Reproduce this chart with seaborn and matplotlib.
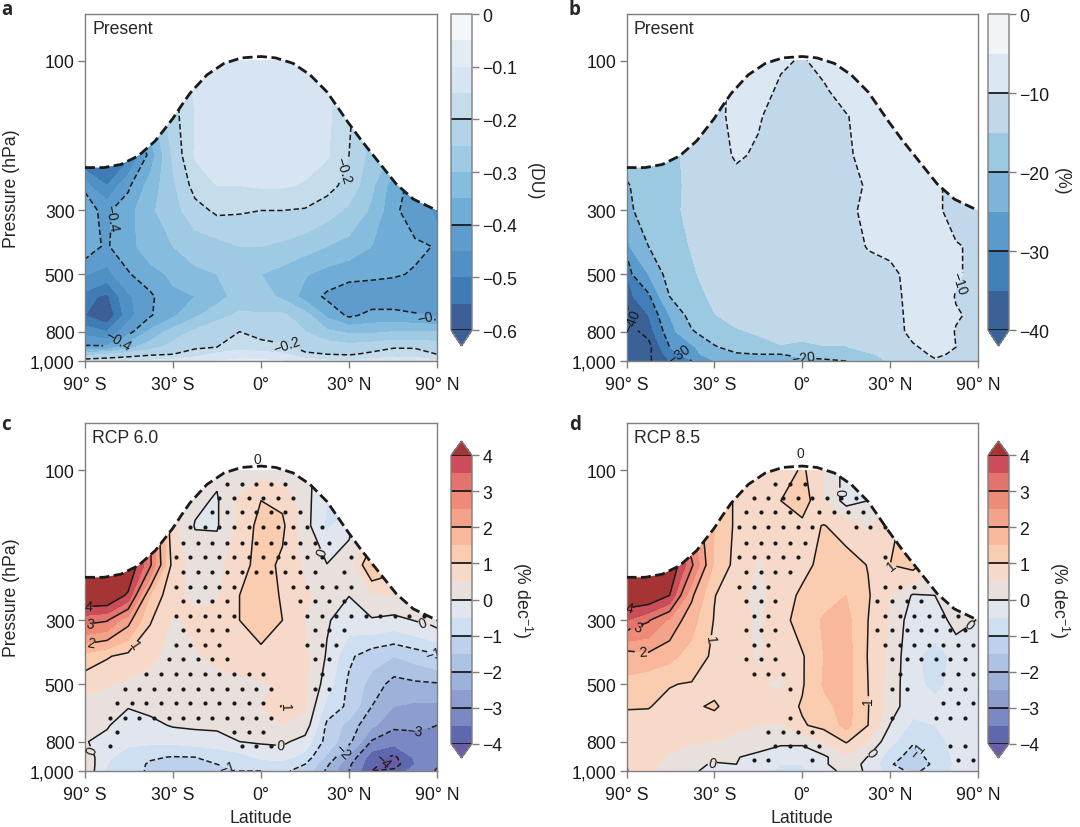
"""Zonal-mean ozone change panels: present-day bias and RCP trends."""
import matplotlib
matplotlib.use("Agg")
import matplotlib.pyplot as plt
from matplotlib.patches import Polygon
import numpy as np
import seaborn as sns

LAT = [-90, -61, -49, -39, -30, -22, -14.5, -7, 0, 7, 14.5, 22, 30, 39, 49, 61, 90]
PRES = [100, 125, 150, 200, 250, 300, 400, 500, 600, 700, 800, 900, 950, 1000]

TROP_LAT = [-90, -63.2, -52.7, -44.2, -36.9, -30.1, -26.9, -23.8, -17.9, -12.1, -6.4, 0,
            4.8, 10.5, 16.2, 22.1, 29.6, 34.9, 42.1, 50.2, 59.9, 90]
TROP_P = [219, 219, 214, 201, 180, 153, 139, 127, 111, 102, 98, 97,
          98, 102, 111, 126, 157, 180, 211, 247, 276, 300]

X_TICKS = [-90, -30, 0, 30, 90]
X_LABELS = ["90° S", "30° S", "0°", "30° N", "90° N"]
Y_TICKS = [100, 300, 500, 800, 1000]
Y_LABELS = ["100", "300", "500", "800", "1,000"]

# column ozone bias (DU), one row per pressure level, 90S to 90N
BIAS_DU = -np.array([
    [.50, .50, .45, .35, .28, .22, .14, .12, .12, .12, .13, .14, .20, .28, .30, .35, .40],
    [.50, .50, .45, .35, .22, .14, .13, .125, .12, .125, .13, .14, .20, .28, .30, .35, .40],
    [.50, .50, .45, .32, .22, .15, .13, .12, .12, .12, .13, .14, .19, .28, .30, .35, .40],
    [.58, .58, .52, .38, .24, .145, .13, .12, .12, .12, .13, .145, .20, .27, .31, .36, .42],
    [.41, .50, .41, .33, .26, .18, .15, .15, .145, .145, .155, .18, .22, .29, .38, .42, .47],
    [.37, .41, .37, .31, .27, .22, .19, .195, .20, .20, .205, .23, .26, .31, .39, .43, .47],
    [.37, .405, .37, .32, .30, .28, .27, .25, .25, .26, .28, .30, .32, .35, .37, .39, .41],
    [.44, .47, .405, .37, .34, .31, .30, .29, .30, .32, .345, .37, .385, .39, .395, .405, .42],
    [.52, .56, .46, .41, .36, .35, .32, .28, .28, .31, .37, .41, .43, .43, .43, .43, .44],
    [.55, .60, .47, .405, .36, .31, .27, .24, .245, .24, .28, .36, .41, .385, .385, .395, .41],
    [.47, .50, .42, .34, .28, .24, .21, .20, .22, .23, .25, .29, .31, .31, .30, .30, .30],
    [.39, .39, .32, .27, .23, .21, .20, .17, .18, .19, .21, .22, .23, .22, .205, .205, .22],
    [.27, .25, .23, .21, .20, .17, .14, .12, .13, .14, .195, .20, .205, .19, .17, .175, .20],
    [.17, .16, .15, .14, .13, .12, .10, .09, .09, .10, .12, .14, .15, .13, .12, .12, .14],
])

BIAS_PCT = -np.array([
    [14, 14, 13, 12, 12, 9, 8, 9.5, 10.3, 9, 8, 8, 8, 8, 8, 8, 8],
    [14, 14, 13, 12, 11.2, 9, 8.5, 10.7, 12.5, 10.5, 8.5, 8, 8, 8, 8, 8, 8],
    [14, 14, 13, 12, 11.3, 8.8, 9.5, 12, 13, 12.5, 10.2, 8.5, 8, 8, 8, 8, 8],
    [16, 16, 15.5, 14.5, 12.5, 9.3, 10.7, 12.5, 13.5, 13, 10.7, 8.5, 8, 8, 8, 8, 8.5],
    [21, 18.5, 16, 14.3, 13, 12, 12.5, 13, 13.5, 13, 11.5, 9.5, 8, 8, 9.5, 11, 12],
    [22, 18.5, 15.8, 14.3, 13.5, 13, 13, 13, 13.5, 13, 11, 9, 8, 8, 9.5, 11, 12],
    [28, 20, 16.5, 14.8, 13.5, 13, 13, 13, 13, 13, 12, 9.7, 9, 8, 8.5, 9.8, 11],
    [35, 25, 18, 15.5, 13.5, 13, 13, 13, 13, 13, 12.5, 12, 11, 8.5, 8, 9.7, 11.5],
    [40, 31, 20, 17, 14, 13, 13, 13, 13, 13, 13, 12.5, 11.5, 8.5, 8, 10.2, 11.5],
    [43, 35, 25, 18, 15.2, 13.5, 13.5, 13.5, 13.5, 13.5, 13, 12.5, 12, 8.5, 8, 9.7, 11.5],
    [46, 38, 27, 20.5, 17, 15.5, 14.5, 14, 13.5, 13, 13, 12.5, 12, 8.8, 8, 10.2, 11.5],
    [41, 42, 30, 26, 20.5, 18, 16.5, 15.2, 16, 15.2, 15.2, 13.5, 12.5, 10.5, 8.5, 10, 11.5],
    [40, 41, 33, 27, 22, 20.5, 20, 20, 19, 17.5, 18, 15.5, 14, 11, 9.5, 10.5, 12],
    [44, 41, 35, 30, 25, 22, 21.5, 21.5, 21, 21, 20, 17, 14.5, 12.5, 10.3, 11, 12],
])

TREND_RCP60 = np.array([
    [4, 4, 3, 2, 1, .4, .1, .2, .3, .2, .1, -.2, -.3, -.3, .3, .3, .3],
    [4.5, 4.5, 3.5, 2.5, 1, .1, -.05, .6, 1, .9, .2, -.5, -.8, .3, .3, .3, .3],
    [4.5, 4.5, 4, 3, .6, -.03, -.05, .6, 1.2, 1.1, .2, -.6, -.1, .5, .8, .5, .3],
    [4.5, 4.5, 4.6, 3.1, .8, .3, .35, .8, 1.2, .9, .4, .02, .2, 1.6, 1.2, .5, .3],
    [4.6, 4.6, 3.9, 1.5, .6, .4, .45, 1, 1.25, .95, .6, .2, .01, .4, .5, .4, .3],
    [3.2, 3.05, 2.2, 1.05, .45, .6, .7, 1, 1.35, 1, .5, .05, -.25, -.05, -.15, .02, .25],
    [1.3, 1.05, .85, .6, .35, .45, .6, .7, .8, .75, .6, -.05, -.9, -1.3, -1.5, -1.3, -1.05],
    [.7, .55, .4, .35, .3, .3, .35, .4, .45, .55, .6, -.25, -1.1, -1.7, -2.2, -2.1, -2.05],
    [.3, .15, .03, .15, .25, .25, .3, .35, .5, 1.05, .55, -.7, -1.1, -2, -2.5, -2.6, -2.6],
    [.2, .05, -.25, -.15, .05, .1, .1, .2, .3, .5, .3, -1.1, -1.7, -2.4, -2.9, -2.9, -3],
    [.1, -.15, -.4, -.4, -.4, -.3, -.2, 0, .07, .1, -.2, -1.2, -1.85, -3.05, -3.3, -3.2, -3.1],
    [.8, -.4, -.7, -.95, -1.02, -1, -.9, -.7, -.4, -.3, -.7, -1.6, -2.6, -3.8, -4.1, -3.4, -3.1],
    [1, -.5, -.8, -1.05, -1.2, -1.15, -1, -.9, -.7, -.7, -1, -1.9, -2.9, -3.9, -4.2, -3.5, -3.1],
    [1.1, -.6, -.85, -1.05, -1.3, -1.3, -1.1, -1, -1, -.9, -1.2, -2.1, -3, -4, -3.9, -3.2, -2.9],
])

TREND_RCP85 = np.array([
    [4, 4, 3, 2, 1.2, 1, .8, .6, 1.1, .5, -.2, -.4, -.3, .2, .2, .2, .2],
    [4.5, 4.5, 3.5, 2.5, 1.5, .9, .95, 1, 1.3, .5, -.2, 0, .5, .5, .3, .3, .3],
    [4.5, 4.5, 3.5, 2.5, 1.5, .9, .7, .75, .85, 1.02, .8, .4, .9, 1.2, .5, .3, .3],
    [4.6, 4.6, 4.6, 3.1, 1.4, .85, .45, .65, .85, 1.15, 1.2, .98, 1, 1.2, .6, .3, .3],
    [4.5, 4.5, 4, 2.1, 1.02, .7, .35, .75, 1.1, 1.35, 1.5, 1.05, .5, -.05, 0, .4, .3],
    [3.5, 3.05, 2.4, 1.7, .97, .7, .4, .8, 1.25, 1.55, 1.65, 1, .45, -.3, -.25, .2, -.1],
    [1.7, 1.85, 1.65, 1.3, .9, .7, .45, .7, .95, 1.5, 1.7, .97, .35, -.4, -.7, -.35, -.35],
    [1.4, 1.15, 1.02, .97, .8, .7, .55, .4, .95, 1.55, 1.7, 1, .3, -.4, -.6, -.35, -.3],
    [1.02, 1.02, .9, .9, 1.08, .7, .75, .75, 1.05, 1.35, 1.7, 1.02, .25, -.35, -.4, -.4, -.4],
    [.9, .85, .8, .75, .7, .6, .5, .45, .95, 1.15, 1.65, 1, -.02, -.6, -.5, -.45, -.4],
    [.85, .75, .65, .55, .5, .35, .2, .12, .1, .55, 1.05, .5, -.35, -.95, -.6, -.4, -.35],
    [.95, .7, .45, .2, .05, .02, -.1, -.35, -.3, -.1, .4, -.02, -.8, -1.2, -.8, -.4, -.2],
    [1, .7, .3, .05, -.02, 0, -.2, -.5, -.5, -.05, .2, -.1, -.95, -1.3, -.9, -.4, -.2],
    [1.1, .7, .25, .05, -.1, -.15, -.3, -.6, -.6, -.2, .15, -.05, -.8, -1.1, -.8, -.4, -.2],
])

# significance dots: for each stipple row, the runs of grid columns that are dotted
STIPPLE_P = [110.6, 122.9, 136, 152, 170, 189, 211, 235, 261, 290, 325, 365, 410, 461,
             519, 584, 657, 741, 828, 920]
STIPPLE_RCP60 = [
    [(9, 13)], [(9, 14)], [(8, 14)], [(7, 16)], [(6, 16)], [(6, 16), (18, 18)],
    [(6, 15), (17, 17)], [(6, 10), (14, 18)], [(6, 9), (14, 17)], [(6, 10), (15, 23)],
    [(6, 9), (15, 17)], [(6, 9), (15, 17)], [(5, 9), (15, 16)], [(4, 12), (16, 16)],
    [(2, 12), (15, 16)], [(2, 12)], [(1, 12)], [(2, 2), (10, 12)], [(1, 1), (10, 12)], [],
]
STIPPLE_RCP85 = [
    [(10, 12)], [(8, 15)], [(8, 11), (13, 16)], [(7, 12), (15, 17)], [(8, 12)],
    [(7, 11), (17, 17)], [(8, 11)], [(7, 9), (17, 19)], [(8, 10), (17, 20)],
    [(8, 9), (17, 22)], [(8, 10), (17, 23)], [(8, 9), (17, 23)], [(8, 10), (18, 23)],
    [(8, 10), (18, 18), (21, 23)], [(11, 11), (18, 19), (22, 23)], [(21, 23)],
    [(11, 11), (18, 18), (21, 23)], [(9, 12)], [(10, 13), (22, 23)], [(8, 9), (12, 12), (22, 23)],
]

BLUES_DU = ["#3d5f98", "#3f7cb5", "#4f90c5", "#5d9ccd", "#6fadd6", "#86bcdd",
            "#9ecae3", "#b3d4e8", "#c5dcea", "#d6e5f1", "#e3ebf3", "#f2f6fa"]
BLUES_PCT = ["#3a6299", "#417fb8", "#5a9bcd", "#7db4da", "#9cc9e2", "#c0d8e9", "#dbe8f3", "#f1f4f7"]
DIVERGING = ["#6068ad", "#7a88c4", "#8c9dce", "#9db2da", "#adc3e3", "#bed1ec", "#cfdff2", "#e0e5ee",
             "#e8e0dd", "#f7d9c9", "#fbcdb0", "#f9b89c", "#f4a28a", "#ed8b78", "#e2736d", "#cb4d5a"]
UNDER_DIV = "#6b5da5"
OVER_DIV = "#a53434"

GREY = "#7f7f7f"
FONT = 12.7
Y_ANCHOR_P = np.log10([40, 100, 300, 500, 800, 1000, 1300])
Y_ANCHOR_S = [-190, 185, 634, 825, 997, 1085, 1195]


def p_forward(p):
    return np.interp(np.log10(np.maximum(p, 1e-3)), Y_ANCHOR_P, Y_ANCHOR_S)


def p_inverse(s):
    return 10 ** np.interp(s, Y_ANCHOR_S, Y_ANCHOR_P)


def lat_forward(x):
    return np.sin(np.radians(x))


def lat_inverse(s):
    return np.degrees(np.arcsin(np.clip(s, -1, 1)))


def minus(v, fmt="{:g}"):
    return fmt.format(v).replace("-", "\u2212")


def stipple_points(runs_by_row, phase):
    lats, pres = [], []
    for r, runs in enumerate(runs_by_row):
        # staggered grid, evenly spaced in sin(lat)
        start = -0.940 if (r + phase) % 2 == 0 else -0.983
        for i0, i1 in runs:
            for i in range(i0, i1 + 1):
                lats.append(float(lat_inverse(start + 0.083 * i)))
                pres.append(STIPPLE_P[r])
    return lats, pres


def draw_panel(fig, rect, crect, field, levels, line_levels, palette, extend, ticks, ticklabels,
               title, letter, unit, unit_pad, unit_y, labels, manual, stipple=None, phase=0,
               xlabel=False, ylabel=False):
    ax = fig.add_axes(rect)
    ax.set_facecolor("white")
    ax.set_xscale("function", functions=(lat_forward, lat_inverse))
    ax.set_yscale("function", functions=(p_forward, p_inverse))

    cf = ax.contourf(LAT, PRES, field, levels=levels, colors=sns.color_palette(palette), extend=extend)
    cl = ax.contour(LAT, PRES, field, levels=line_levels, colors="k", linewidths=1.1,
                    negative_linestyles=(0, (3.6, 1.8)))

    verts = list(zip(TROP_LAT, TROP_P)) + [(90, 1000), (-90, 1000)]
    dome = Polygon(verts, closed=True, transform=ax.transData)
    cf.set_clip_path(dome)
    cl.set_clip_path(dome)

    if manual:
        ax.clabel(cl, manual=manual, fmt=lambda v: minus(v), fontsize=10, inline=True, inline_spacing=1)

    if stipple is not None:
        sx, sy = stipple_points(stipple, phase)
        sns.scatterplot(x=sx, y=sy, s=9, color="k", linewidth=0, ax=ax, zorder=4)

    sns.lineplot(x=TROP_LAT, y=TROP_P, color="k", linewidth=2.0, linestyle=(0, (3.6, 1.6)),
                 sort=False, estimator=None, ax=ax, zorder=5)

    for lat, p, txt in labels:
        ax.text(lat, p, txt, ha="center", va="center", fontsize=10, zorder=6)

    ax.set_xlim(-90, 90)
    ax.set_ylim(1000, 70.8)
    ax.set_xticks(X_TICKS, X_LABELS)
    ax.set_yticks(Y_TICKS, Y_LABELS)
    ax.minorticks_off()
    ax.tick_params(length=5, width=1, color=GREY, labelsize=FONT, pad=2.5, labelcolor="#1a1a1a")
    ax.tick_params(axis="x", pad=6)
    for sp in ax.spines.values():
        sp.set_visible(True)
        sp.set_color(GREY)
        sp.set_linewidth(1)
    ax.set_xlabel("Latitude" if xlabel else "", fontsize=FONT, labelpad=4)
    ax.set_ylabel("Pressure (hPa)" if ylabel else "", fontsize=FONT, labelpad=7)
    ax.text(0.02, 0.957, title, transform=ax.transAxes, fontsize=FONT, va="center", ha="left")

    cax = fig.add_axes(crect)
    cbar = fig.colorbar(cf, cax=cax, ticks=ticks, extendfrac=0.05)
    cbar.ax.set_yticklabels(ticklabels)
    cbar.ax.tick_params(length=5, width=1, color=GREY, labelsize=FONT, pad=2.5, labelcolor="#1a1a1a")
    cbar.ax.minorticks_off()
    cbar.outline.set_edgecolor(GREY)
    cbar.outline.set_linewidth(1)
    cbar.ax.hlines(line_levels, 0, 1, colors="k", linewidth=1.3)
    cbar.set_label(unit, rotation=270, fontsize=FONT, labelpad=unit_pad)
    cbar.ax.yaxis.label.set_y(unit_y)
    fig.text(letter[0] / W, 1 - letter[1] / H, letter[2], fontsize=13.5,
             fontweight="bold", family="Open Sans", va="center", ha="left")
    return ax


W, H = 1080, 828
sns.set_theme(style="ticks")
plt.rcParams["font.family"] = ["Liberation Sans", "DejaVu Sans"]
plt.rcParams["mathtext.default"] = "regular"

fig = plt.figure(figsize=(W / 100, H / 100), dpi=100)


def box(x0, y0, x1, y1):
    return [x0 / W, 1 - y1 / H, (x1 - x0) / W, (y1 - y0) / H]


du_levels = np.round(np.arange(-0.6, 0.001, 0.05), 2)
du_ticks = [-0.6, -0.5, -0.4, -0.3, -0.2, -0.1, 0]
pct_levels = np.arange(-40, 1, 5)
pct_ticks = [-40, -30, -20, -10, 0]
trend_levels = np.arange(-4, 4.01, 0.5)
trend_ticks = list(range(-4, 5))
trend_lines = [-4, -3, -2, -1, 0, 1, 2, 3, 4]
trend_unit = "(% dec$^{\u22121}$)"

draw_panel(fig, box(85, 14.5, 437, 362), box(451, 15, 472, 347), BIAS_DU, du_levels, [-0.6, -0.4, -0.2],
           [BLUES_DU[0]] + BLUES_DU, "min", du_ticks, [minus(v) for v in du_ticks],
           "Present", (1, 10, "a"), "(DU)", 18, 0.473, [],
           [(28.3, 224), (-59.7, 317), (-53.6, 868), (8.2, 905), (74.4, 723)], ylabel=True)

draw_panel(fig, box(626.5, 14.5, 978, 362), box(988, 15, 1009, 347), BIAS_PCT, pct_levels, [-40, -30, -20, -10],
           [BLUES_PCT[0]] + BLUES_PCT, "min", pct_ticks, [minus(v) for v in pct_ticks],
           "Present", (569, 10, "b"), "(%)", 15, 0.473, [],
           [(63, 536), (0.5, 945), (-45, 955), (-72, 723)])

draw_panel(fig, box(85, 424, 437, 772), box(451, 442, 472, 759), TREND_RCP60, trend_levels, trend_lines,
           [UNDER_DIV] + DIVERGING + [OVER_DIV], "both", trend_ticks, [minus(v) for v in trend_ticks],
           "RCP 6.0", (1, 425, "c"), trend_unit, 23, 0.5, [(-1.3, 92, "0")],
           [(6.5, 800), (-49.5, 352), (-76.6, 343), (-77.7, 300), (-77.5, 272), (-71.9, 851),
            (-10.4, 950), (27, 851), (64.7, 826), (41.3, 895), (79, 392), (21.5, 181), (66, 312), (9.9, 600)],
           stipple=STIPPLE_RCP60, phase=0, xlabel=True, ylabel=True)

draw_panel(fig, box(626.5, 424, 978, 772), box(988, 442, 1009, 759), TREND_RCP85, trend_levels, trend_lines,
           [UNDER_DIV] + DIVERGING + [OVER_DIV], "both", trend_ticks, [minus(v) for v in trend_ticks],
           "RCP 8.5", (569, 425, "d"), trend_unit, 23, 0.5, [(-0.5, 88, "0")],
           [(12.9, 117), (-78.6, 279), (-71, 310), (-64.4, 361), (-33.4, 347), (30.5, 201), (22.3, 570),
            (-30.7, 945), (22.9, 869), (44.3, 826), (69.6, 305)],
           stipple=STIPPLE_RCP85, phase=1, xlabel=True)

fig.savefig("out.png", dpi=100)
